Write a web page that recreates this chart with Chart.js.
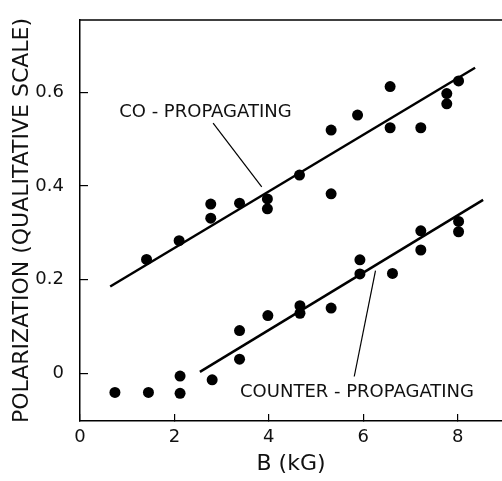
<!DOCTYPE html>
<html>
<head>
<meta charset="utf-8">
<script src="https://cdn.jsdelivr.net/npm/chart.js@4"></script>
<style>
  html, body { margin: 0; padding: 0; background: #fff; }
  #c { display: block; }
</style>
</head>
<body>
<canvas id="c" width="502" height="481"></canvas>
<script>
// Co-propagating points
const coX = [1.41, 2.10, 2.77, 2.77, 3.38, 3.97, 3.97, 4.65, 5.32, 5.32, 5.88, 6.57, 6.57, 7.22, 7.77, 7.77, 8.02]
const coY = [0.243, 0.283, 0.361, 0.331, 0.363, 0.372, 0.351, 0.423, 0.383, 0.519, 0.551, 0.612, 0.524, 0.524, 0.597, 0.575, 0.624]

// Counter-propagating points
const ctrX = [0.74, 1.45, 2.12, 2.12, 2.80, 3.38, 3.38, 3.98, 4.66, 4.66, 5.32, 5.93, 5.93, 6.62, 7.22, 7.22, 8.02, 8.02]
const ctrY = [-0.041, -0.041, -0.006, -0.043, -0.014, 0.091, 0.030, 0.123, 0.144, 0.128, 0.139, 0.242, 0.212, 0.213, 0.304, 0.263, 0.324, 0.302]

// Fitted lines (end points)
const coFitX = [0.64, 8.37]
const coFitY = [0.185, 0.652]
const ctrFitX = [2.54, 8.54]
const ctrFitY = [0.003, 0.370]

// Label leader lines
const coLeadX = [2.82, 3.85]
const coLeadY = [0.534, 0.398]
const ctrLeadX = [5.81, 6.26]
const ctrLeadY = [-0.007, 0.219]

// Ticks
const xTicks = [0, 2, 4, 6, 8]
const yTicks = [0, 0.2, 0.4, 0.6]

// Curve labels: text, x, y (left / middle anchored)
const labelText = ['CO - PROPAGATING', 'COUNTER - PROPAGATING']
const labelX = [0.83, 3.39]
const labelY = [0.556, -0.040]

const pts = (xs, ys) => xs.map((x, i) => ({x: x, y: ys[i]}))

const FONT = "'DejaVu Sans', sans-serif"

// top frame line + curve labels
const extras = {
  id: 'extras',
  afterDraw(chart) {
    const c = chart.ctx
    const a = chart.chartArea
    const sx = chart.scales.x, sy = chart.scales.y
    c.save()
    c.strokeStyle = '#000'
    c.lineWidth = 1.5
    c.beginPath()
    c.moveTo(a.left, a.top)
    c.lineTo(a.right, a.top)
    c.stroke()

    c.fillStyle = '#111'
    c.font = '18px ' + FONT
    c.textAlign = 'left'
    c.textBaseline = 'middle'
    for (let i = 0; i < labelText.length; i++) {
      c.fillText(labelText[i], sx.getPixelForValue(labelX[i]), sy.getPixelForValue(labelY[i]))
    }
    c.restore()
  }
}

const dot = (data) => ({
  data: data,
  pointRadius: 5.5,
  pointBackgroundColor: '#000',
  pointBorderWidth: 0,
  showLine: false
})
const seg = (data, w) => ({
  data: data,
  showLine: true,
  pointRadius: 0,
  borderColor: '#000',
  borderWidth: w,
  fill: false
})

new Chart(document.getElementById('c'), {
  type: 'scatter',
  data: {
    datasets: [
      dot(pts(coX, coY)),
      dot(pts(ctrX, ctrY)),
      seg(pts(coFitX, coFitY), 2.5),
      seg(pts(ctrFitX, ctrFitY), 2.5),
      seg(pts(coLeadX, coLeadY), 1.2),
      seg(pts(ctrLeadX, ctrLeadY), 1.2)
    ]
  },
  options: {
    responsive: false,
    animation: false,
    layout: { autoPadding: false, padding: { top: 20, right: 0, bottom: 0, left: 0 } },
    plugins: { legend: { display: false }, tooltip: { enabled: false } },
    scales: {
      x: {
        type: 'linear',
        min: 0,
        max: 8.94,
        afterFit: (s) => { s.height = 60; s.paddingLeft = 0; s.paddingRight = 0 },
        afterBuildTicks: (s) => { s.ticks = xTicks.map(v => ({value: v})) },
        border: { display: true, color: '#000', width: 1.5 },
        grid: { drawOnChartArea: false, drawTicks: true, tickLength: -7, color: '#000', lineWidth: 1.2 },
        ticks: { color: '#111', font: { family: FONT, size: 18 }, padding: 13, maxRotation: 0 },
        title: { display: true, text: 'B (kG)', color: '#111', font: { family: FONT, size: 22 }, padding: { top: 0, bottom: 4 } }
      },
      y: {
        type: 'linear',
        min: -0.102,
        max: 0.754,
        afterFit: (s) => { s.width = 80; s.paddingTop = 0; s.paddingBottom = 0 },
        afterBuildTicks: (s) => { s.ticks = yTicks.map(v => ({value: v})) },
        border: { display: true, color: '#000', width: 1.5 },
        grid: { drawOnChartArea: false, drawTicks: true, tickLength: -8, color: '#000', lineWidth: 1.2 },
        ticks: { color: '#111', font: { family: FONT, size: 18 }, padding: 24 },
        title: { display: true, text: 'POLARIZATION (QUALITATIVE SCALE)', color: '#111', font: { family: FONT, size: 22 }, padding: { top: 9, bottom: 0 } }
      }
    }
  },
  plugins: [extras]
})
</script>
</body>
</html>
